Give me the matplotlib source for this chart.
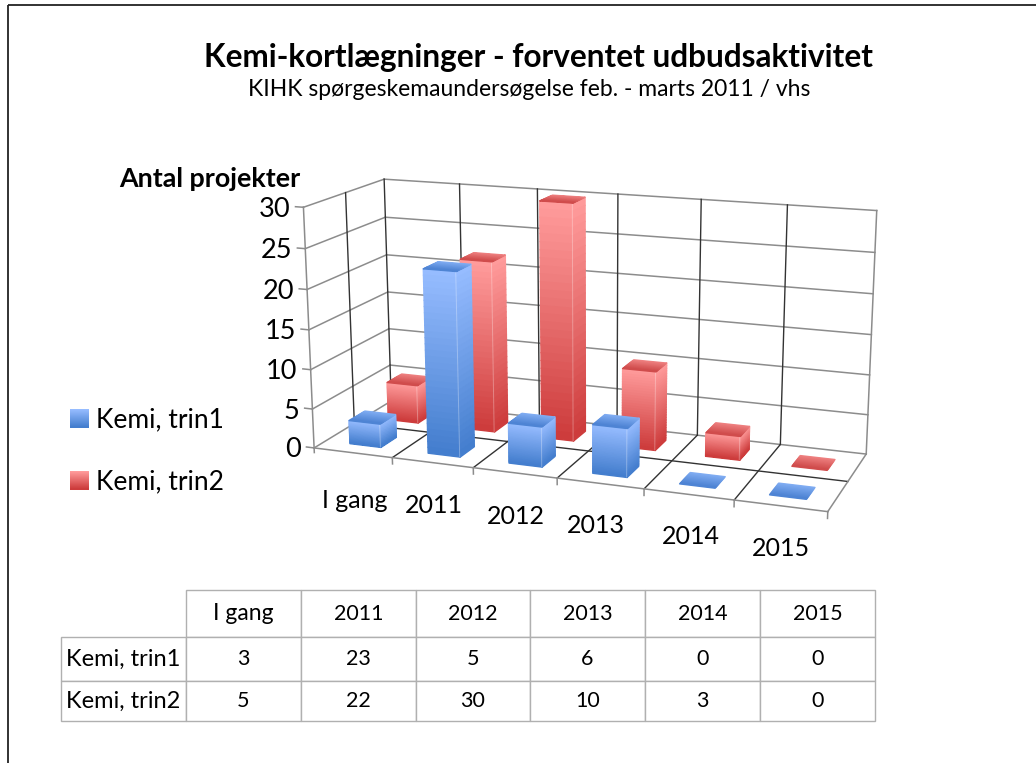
import numpy as np
import matplotlib
matplotlib.use("Agg")
from matplotlib import pyplot as plt
from matplotlib.legend_handler import HandlerBase
from matplotlib.patches import Patch, Rectangle
from mpl_toolkits.mplot3d.art3d import Poly3DCollection

plt.rcParams['font.family'] = ['Lato', 'DejaVu Sans']

categories = ["I gang", "2011", "2012", "2013", "2014", "2015"]
series_names = ["Kemi, trin1", "Kemi, trin2"]
trin1 = [3, 23, 5, 6, 0, 0]
trin2 = [5, 22, 30, 10, 3, 0]
z_ticks = [0, 5, 10, 15, 20, 25, 30]

W, H = 1036, 763

# colours: (top of gradient, bottom of gradient)
blue_side = ((150, 188, 255), (68, 126, 206))
blue_top = ((128, 172, 242), (78, 132, 212))
red_side = ((255, 155, 155), (205, 60, 60))
red_top = ((238, 128, 128), (208, 76, 76))

# where the box corners sit in the picture, used to fit the perspective
corners_3d = [(0, 2, 0), (0, 2, 30), (6, 2, 30), (6, 2, 0), (0, 0, 0), (0, 0, 30), (6, 0, 0)]
corners_px = [(391, 401.7), (384.3, 179), (876.7, 210.7), (866.3, 453.3),
              (314.3, 447.3), (303.3, 207.3), (827.7, 512.3)]

rows, rhs = [], []
for (x, y, z), (u, v) in zip(corners_3d, corners_px):
    rows.append([x, y, z, 1, 0, 0, 0, 0, -u*x, -u*y, -u*z])
    rows.append([0, 0, 0, 0, x, y, z, 1, -v*x, -v*y, -v*z])
    rhs += [u, v]
sol = np.linalg.lstsq(np.array(rows, dtype=float), np.array(rhs, dtype=float), rcond=None)[0]
cam = np.append(sol, 1.0).reshape(3, 4)


def to_px(x, y, z):
    p = cam @ np.array([x, y, z, 1.0])
    return p[0]/p[2], p[1]/p[2]


fig = plt.figure(figsize=(W/100, H/100), dpi=100)

# 3d axes kept square, the projection is replaced by the fitted one
side = 640
ax = fig.add_axes([250/W, (H - side)/H, side/W, side/H], projection='3d', computed_zorder=False)
ax.set_axis_off()
ax.patch.set_visible(False)
ax.set_proj_type('ortho')  # stops Line3D clipping on the depth value


def fitted_proj():
    flip = np.array([[1, 0, 0], [0, -1, H], [0, 0, 1]], dtype=float)
    to_data = ax.transData.inverted().get_matrix()
    p = to_data @ flip @ cam
    return np.array([p[0], p[1], [0, -0.01, 0, 0], p[2]])


ax.get_proj = fitted_proj


def mix(pair, t):
    a, b = np.array(pair[0])/255, np.array(pair[1])/255
    return tuple(a + (b - a)*t)


def add_strips(polys, cols, order):
    # one collection per strip so the depth sort can't reorder the gradient
    for k, (poly, col) in enumerate(zip(polys, cols)):
        ax.add_collection3d(Poly3DCollection([poly], facecolors=[col], edgecolors=[col], linewidths=1.0,
                                             antialiaseds=False, zorder=order + k*0.001))


def draw_bar(x0, x1, y0, y1, val, side_col, top_col, order):
    n = 30
    if val > 0:
        zs = np.linspace(val, 0, n + 1)
        ts = np.linspace(0, 1, n)
        front = [[(x0, y0, zs[i]), (x1, y0, zs[i]), (x1, y0, zs[i+1]), (x0, y0, zs[i+1])] for i in range(n)]
        right = [[(x1, y0, zs[i]), (x1, y1, zs[i]), (x1, y1, zs[i+1]), (x1, y0, zs[i+1])] for i in range(n)]
        add_strips(right, [mix(side_col, t) for t in ts], order)
        add_strips(front, [mix(side_col, t) for t in ts], order + 0.1)
        ax.plot([x1, x1], [y0, y0], [0, val], color='white', alpha=0.3, lw=0.7, zorder=order + 0.2)
    ys = np.linspace(y1, y0, 11)
    top = [[(x0, ys[i], val), (x1, ys[i], val), (x1, ys[i+1], val), (x0, ys[i+1], val)] for i in range(10)]
    add_strips(top, [mix(top_col, t) for t in np.linspace(0, 1, 10)], order + 0.3)


grey = '#8c8c8c'
dark = '#333333'
for v in z_ticks:
    ax.plot([0, 6], [2, 2], [v, v], color=grey, lw=1.1, zorder=1)
    ax.plot([0, 0], [0, 2], [v, v], color=grey, lw=1.1, zorder=1)
    ax.plot([-0.1, 0], [0, 0], [v, v], color=grey, lw=1.1, zorder=1)
for i in range(1, 6):
    ax.plot([i, i], [2, 2], [0, 30], color=dark, lw=1.0, zorder=1)
    ax.plot([i, i], [0, 2], [0, 0], color=dark, lw=1.0, zorder=1)
ax.plot([0, 0], [2, 2], [0, 30], color=dark, lw=1.0, zorder=1)
ax.plot([0, 0], [1, 1], [0, 30], color=dark, lw=1.0, zorder=1)
ax.plot([0, 0], [0, 0], [-0.6, 30], color=grey, lw=1.1, zorder=1)
ax.plot([6, 6], [2, 2], [0, 30], color=grey, lw=1.1, zorder=1)
ax.plot([0, 6], [1, 1], [0, 0], color=dark, lw=1.0, zorder=1)
ax.plot([0, 6], [0, 0], [0, 0], color=grey, lw=1.1, zorder=1)
ax.plot([6, 6], [0, 2], [0, 0], color=grey, lw=1.1, zorder=1)
for i in range(1, 7):
    ax.plot([i, i], [0, 0], [-0.8, 0], color=grey, lw=1.1, zorder=1)

# back row first, then front row
for i, val in enumerate(trin2):
    draw_bar(i + 0.3, i + 0.7, 1.3, 1.7, val, red_side, red_top, 2 + i*0.5)
for i, val in enumerate(trin1):
    draw_bar(i + 0.3, i + 0.7, 0.3, 0.7, val, blue_side, blue_top, 6 + i*0.5)

# overlay in picture pixels for all plain text
over = fig.add_axes([0, 0, 1, 1], facecolor='none')
over.set_xlim(0, W)
over.set_ylim(H, 0)
over.axis('off')
over.add_patch(Rectangle((8, 4.5), 1100, 800, fill=False, edgecolor='#222222', lw=1.3))
over.text(538, 58, "Kemi-kortlægninger - forventet udbudsaktivitet", ha='center', va='center',
          fontsize=22.7, fontweight='bold')
over.text(529, 90, "KIHK spørgeskemaundersøgelse feb. - marts 2011 / vhs", ha='center', va='center',
          fontsize=16.5)
over.text(210, 179, "Antal projekter", ha='center', va='center', fontsize=19.4, fontweight='bold')

for v in z_ticks:
    u, w = to_px(0, 0, v)
    over.text(u - 13, w + 2, str(v), ha='right', va='center', fontsize=19.5)

label_nudge = [(0, 8), (0, 2), (1, 2), (-4, 0), (3, -1), (2, -1)]
for i, name in enumerate(categories):
    u, w = to_px(i + 0.5, 0, -5.2)
    over.text(u + label_nudge[i][0], w + label_nudge[i][1], name, ha='center', va='center', fontsize=18)


class GradHandler(HandlerBase):
    def create_artists(self, legend, orig, xd, yd, width, height, fontsize, trans):
        cols = orig.grad
        out = []
        for k in range(18):
            out.append(Rectangle((-xd, -yd + height*(17 - k)/18), width, height/18 + 0.2,
                                 facecolor=mix(cols, k/17), edgecolor='none', transform=trans))
        return out


h1 = Patch(label=series_names[0])
h1.grad = blue_side
h2 = Patch(label=series_names[1])
h2.grad = red_side
fig.legend(handles=[h1, h2], handler_map={Patch: GradHandler()}, loc='center left',
           bbox_to_anchor=(70/W, 1 - 451/H), frameon=False, fontsize=19, handlelength=0.72,
           handleheight=0.72, handletextpad=0.25, labelspacing=1.4, borderpad=0, borderaxespad=0)

# table under the chart
col_px = [61, 186, 301, 416, 530, 645, 760, 875]
row_px = [590, 637, 681, 721]
tab_ax = fig.add_axes([col_px[0]/W, 1 - row_px[-1]/H, (col_px[-1] - col_px[0])/W, (row_px[-1] - row_px[0])/H])
tab_ax.axis('off')
cell_text = [[""] + categories,
             [series_names[0]] + [str(v) for v in trin1],
             [series_names[1]] + [str(v) for v in trin2]]
tab = tab_ax.table(cellText=cell_text, cellLoc='center', bbox=[0, 0, 1, 1],
                   colWidths=list(np.diff(col_px)))
tab.auto_set_font_size(False)
tab.set_fontsize(15.5)
for (r, c), cell in tab.get_celld().items():
    cell.set_height(row_px[r + 1] - row_px[r])
    cell.set_edgecolor('#b0b0b0')
    cell.set_linewidth(1.0)
    if c == 0 and r > 0:
        cell.set_text_props(ha='left', fontsize=17)
        cell.PAD = 0.04
    if r == 0 and c == 1:
        cell.set_text_props(fontsize=16.5)
    if r == 0 and c == 0:
        cell.visible_edges = ''

fig.savefig("out.png", dpi=100)
